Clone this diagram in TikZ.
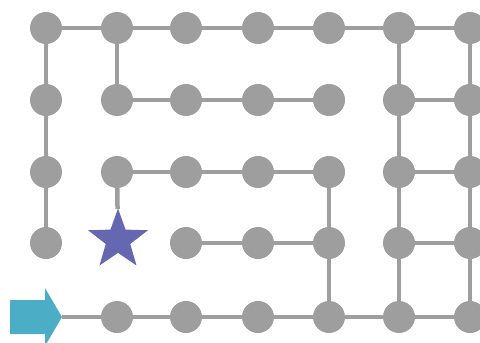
\documentclass[tikz,border=0pt]{standalone}
\usetikzlibrary{shapes.geometric}
\definecolor{dotgray}{HTML}{9E9E9E}
\definecolor{starblue}{HTML}{6567B1}
\definecolor{arrowcyan}{HTML}{4BADC6}
\begin{document}
\begin{tikzpicture}[x=1pt,y=-1pt,
  dot/.style={circle,fill=dotgray,inner sep=0pt,minimum size=32pt},
  link/.style={draw=dotgray,line width=4.5pt}]
\useasboundingbox (0,0) rectangle (480,343);
\begin{scope}
\clip (0,0) rectangle (480,343);
% grid of stations
\foreach \c/\x in {1/46,2/117,3/186,4/258,5/329,6/399,7/470}{
  \foreach \r/\y in {1/28,2/100,3/172,4/243,5/317}{
    \coordinate (p-\c-\r) at (\x,\y);
  }
}
\foreach \c in {1,...,7}{
  \foreach \r in {1,...,4}{
    \ifnum\c=2 \ifnum\r=4 \else \node[dot] (n-\c-\r) at (p-\c-\r) {};\fi
    \else \node[dot] (n-\c-\r) at (p-\c-\r) {};\fi
  }
}
\foreach \c in {2,...,7}{ \node[dot] (n-\c-5) at (p-\c-5) {}; }
% goal star
\node[star,star points=5,star point ratio=2.45,fill=starblue,inner sep=0pt,
      minimum size=63pt] (goal) at (118,240) {};
% start arrow
\fill[arrowcyan] (10,300) -- (45,300) -- (45,288) -- (62,317) -- (45,346)
  -- (45,334) -- (10,334) -- cycle;
\coordinate (start) at (62,317);
% corridors
\path[link] (n-1-1) -- (n-2-1) -- (n-3-1) -- (n-4-1) -- (n-5-1) -- (n-6-1) -- (n-7-1);
\path[link] (n-1-1) -- (n-1-2) -- (n-1-3) -- (n-1-4);
\path[link] (n-2-1) -- (n-2-2) -- (n-3-2) -- (n-4-2) -- (n-5-2);
\path[link] (n-2-3) -- (n-3-3) -- (n-4-3) -- (n-5-3);
\path[link] (n-2-3) -- (goal);
\path[link] (n-3-4) -- (n-4-4) -- (n-5-4);
\path[link] (n-5-3) -- (n-5-4) -- (n-5-5);
\path[link] (start) -- (n-2-5) -- (n-3-5) -- (n-4-5) -- (n-5-5) -- (n-6-5) -- (n-7-5);
\path[link] (n-6-1) -- (n-6-2) -- (n-6-3) -- (n-6-4) -- (n-6-5);
\path[link] (n-7-1) -- (n-7-2) -- (n-7-3) -- (n-7-4) -- (n-7-5);
\path[link] (n-6-2) -- (n-7-2);
\path[link] (n-6-3) -- (n-7-3);
\path[link] (n-6-4) -- (n-7-4);
\end{scope}
\end{tikzpicture}
\end{document}
